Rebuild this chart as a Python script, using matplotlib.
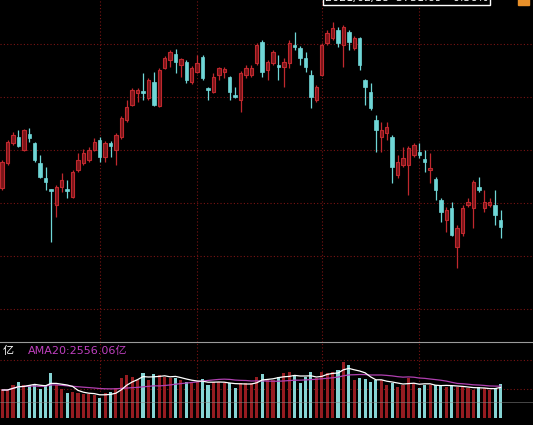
import matplotlib
matplotlib.use('Agg')
import matplotlib.pyplot as plt
import numpy as np
import pandas as pd

plt.rcParams['font.family'] = ['DejaVu Sans', 'Noto Sans CJK SC']

# daily candles, index points
opens = [3424, 3474, 3514, 3526, 3500, 3532, 3514, 3474, 3444, 3422,
	3390, 3426, 3422, 3406, 3460, 3474, 3480, 3500, 3520, 3486,
	3514, 3500, 3526, 3560, 3590, 3614, 3618, 3604, 3636, 3588,
	3664, 3680, 3692, 3670, 3676, 3636, 3656, 3686, 3624, 3616,
	3650, 3656, 3646, 3610, 3600, 3650, 3650, 3674, 3716, 3660,
	3674, 3670, 3666, 3674, 3710, 3704, 3684, 3650, 3600, 3650,
	3714, 3724, 3740, 3710, 3736, 3704, 3724, 3640, 3616, 3560,
	3526, 3534, 3526, 3450, 3470, 3470, 3490, 3496, 3482, 3460,
	3442, 3400, 3360, 3384, 3306, 3334, 3390, 3384, 3426, 3384,
	3390, 3390, 3360]
closes = [3476, 3516, 3530, 3508, 3540, 3524, 3480, 3446, 3436, 3418,
	3426, 3440, 3418, 3456, 3480, 3494, 3500, 3516, 3486, 3514,
	3508, 3530, 3564, 3586, 3620, 3620, 3614, 3640, 3590, 3660,
	3684, 3696, 3676, 3682, 3640, 3664, 3674, 3644, 3620, 3646,
	3664, 3662, 3616, 3606, 3654, 3664, 3664, 3710, 3656, 3676,
	3696, 3666, 3676, 3714, 3706, 3684, 3666, 3606, 3626, 3710,
	3734, 3744, 3714, 3746, 3716, 3724, 3670, 3626, 3584, 3540,
	3540, 3546, 3466, 3476, 3484, 3504, 3510, 3490, 3476, 3464,
	3420, 3376, 3380, 3330, 3344, 3384, 3396, 3436, 3420, 3396,
	3396, 3370, 3346]
highs = [3480, 3520, 3536, 3540, 3542, 3544, 3516, 3490, 3466, 3422,
	3430, 3454, 3440, 3460, 3494, 3502, 3506, 3524, 3526, 3518,
	3518, 3534, 3568, 3600, 3624, 3624, 3654, 3644, 3656, 3664,
	3688, 3700, 3702, 3684, 3680, 3668, 3690, 3690, 3626, 3654,
	3666, 3666, 3648, 3626, 3658, 3670, 3670, 3714, 3720, 3680,
	3700, 3690, 3684, 3720, 3736, 3708, 3696, 3660, 3630, 3714,
	3740, 3756, 3746, 3750, 3740, 3728, 3726, 3642, 3634, 3570,
	3556, 3556, 3530, 3490, 3506, 3508, 3514, 3514, 3500, 3494,
	3446, 3404, 3386, 3396, 3350, 3390, 3404, 3440, 3446, 3420,
	3404, 3420, 3380]
lows = [3420, 3470, 3510, 3506, 3498, 3516, 3476, 3444, 3420, 3316,
	3366, 3416, 3404, 3404, 3456, 3470, 3476, 3498, 3476, 3476,
	3486, 3470, 3522, 3556, 3588, 3596, 3600, 3600, 3588, 3586,
	3662, 3666, 3654, 3646, 3634, 3632, 3654, 3640, 3600, 3614,
	3640, 3644, 3600, 3604, 3576, 3644, 3646, 3670, 3646, 3640,
	3670, 3640, 3626, 3664, 3700, 3670, 3656, 3584, 3596, 3648,
	3710, 3720, 3706, 3666, 3700, 3700, 3660, 3590, 3580, 3496,
	3496, 3520, 3434, 3444, 3466, 3410, 3486, 3484, 3456, 3434,
	3400, 3356, 3336, 3328, 3264, 3328, 3386, 3344, 3416, 3376,
	3386, 3350, 3324]
# turnover, 亿
volumes = [2100, 2100, 2475, 2700, 2475, 2475, 2475, 2175, 2475, 3375,
	2475, 2175, 1875, 1950, 1875, 1800, 1800, 1725, 1500, 1875,
	1950, 2250, 3000, 3225, 3075, 2850, 3375, 2850, 3300, 3225,
	3075, 3000, 3000, 2850, 2700, 2625, 2700, 2925, 2475, 2700,
	2700, 2625, 2625, 2250, 2625, 2625, 2625, 3075, 3300, 2850,
	2850, 3075, 3375, 3450, 3225, 2625, 3075, 3450, 3000, 3450,
	3375, 3450, 3600, 4200, 3975, 2850, 3000, 2925, 2700, 2850,
	2850, 2475, 2625, 2325, 2475, 3000, 2625, 2250, 2475, 2475,
	2475, 2475, 2325, 2400, 2325, 2325, 2250, 2100, 2325, 2250,
	2100, 2250, 2550]
price_grid = [3713, 3607, 3501, 3395, 3289, 3183]
month_starts = [18, 36, 59, 77]
ama_label = 'AMA20:2556.06亿'

UP = '#c0282e'
UP_FILL = '#7a1519'
DOWN = '#6fd6d6'
GRID = '#7a1414'

o = np.array(opens)
c = np.array(closes)
h = np.array(highs)
l = np.array(lows)
v = np.array(volumes)
idx = np.arange(len(o))
up = c >= o

fig = plt.figure(figsize=(5.33, 4.25), dpi=100, facecolor='black')
ax = fig.add_axes([0, 83/425, 1, 342/425], facecolor='black')
axv = fig.add_axes([0, 7/425, 1, 76/425], facecolor='black')

for a in (ax, axv):
	a.set_xlim(-0.4, 98)
	for s in a.spines.values():
		s.set_visible(False)
	a.set_xticks([])
	a.set_yticks([])
	for m in month_starts:
		a.axvline(m, color=GRID, lw=0.8, ls=(0, (1, 2)), zorder=0)

ax.set_ylim(3116, 3800)
for g in price_grid:
	ax.axhline(g, color=GRID, lw=0.8, ls=(0, (1, 2)), zorder=0)

# candles
cols = np.where(up, UP, DOWN)
ax.vlines(idx, l, h, colors=cols, lw=0.9, zorder=2)
body_low = np.minimum(o, c)
body_h = np.maximum(np.abs(c - o), 2)
ax.bar(idx[up], body_h[up], bottom=body_low[up], width=0.64,
	color=UP_FILL, edgecolor=UP, linewidth=0.8, zorder=3)
ax.bar(idx[~up], body_h[~up], bottom=body_low[~up], width=0.64,
	color=DOWN, edgecolor=DOWN, linewidth=0.5, zorder=3)

# top info strip, only its lower edge shows, as in the source screenshot
ax.text(0.61, 1.0 + 2.5/342, '2021/02/18  3731.69  -0.56%', transform=ax.transAxes,
	color='white', fontsize=8, va='center', ha='left',
	bbox=dict(facecolor='black', edgecolor='white', pad=1.5))
ax.text(0.975, 1.0 + 2.5/342, '  ', transform=ax.transAxes, fontsize=8, va='center',
	bbox=dict(facecolor='#e8902a', edgecolor='#e8902a', pad=1.5))

# volume
axv.set_ylim(0, 5700)
vcols = np.where(up, '#951c21', '#86d4d4')
axv.bar(idx, v, width=0.58, color=vcols, zorder=2)
ma5 = pd.Series(v).rolling(5, min_periods=1).mean()
ma20 = pd.Series(v).rolling(20, min_periods=1).mean()
axv.plot(idx, ma20, color='#b040b0', lw=0.9, zorder=3)
axv.plot(idx, ma5, color='white', lw=0.9, zorder=4)
for g in [4350, 2175]:
	axv.axhline(g, color=GRID, lw=0.8, ls=(0, (1, 2)), zorder=1)
axv.axhline(1200, color='#888888', lw=0.6, alpha=0.6, zorder=5)

fig.add_artist(plt.Line2D([0, 1], [83/425, 83/425], color='#9a9a9a', lw=0.8))
fig.text(3/533, 1 - 351/425, '亿', color='white', fontsize=8, va='center')
fig.text(28/533, 1 - 351/425, ama_label, color='#c040c0', fontsize=8, va='center')

fig.savefig('out.png', dpi=100, facecolor='black')
